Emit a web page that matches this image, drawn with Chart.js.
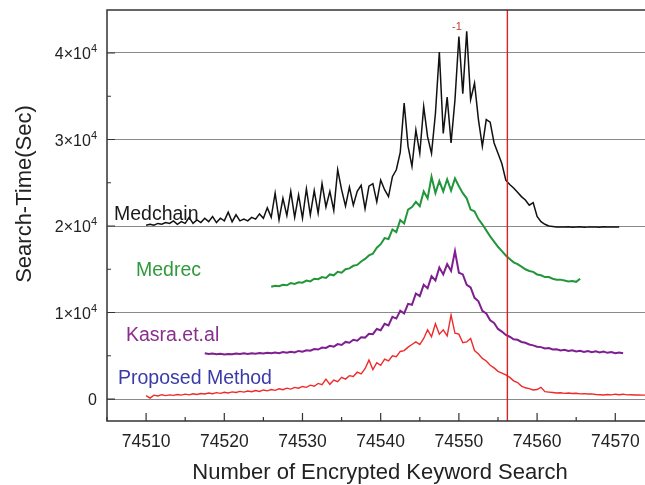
<!DOCTYPE html>
<html><head><meta charset="utf-8">
<script src="https://cdn.jsdelivr.net/npm/chart.js@4.4.1/dist/chart.umd.min.js"></script>
<style>html,body{margin:0;padding:0;background:#fff;overflow:hidden}</style>
</head><body>
<canvas id="c" width="645" height="485"></canvas>
<script>
// ---- data ----
const keywordCounts = [
74510,74510.5,74511,74511.5,74512,74512.5,74513,74513.5,74514,74514.5,74515,74515.5,74516,74516.5,74517,74517.5,74518,74518.5,74519,74519.5,
74520,74520.5,74521,74521.5,74522,74522.5,74523,74523.5,74524,74524.5,74525,74525.5,74526,74526.5,74527,74527.5,74528,74528.5,74529,74529.5,
74530,74530.5,74531,74531.5,74532,74532.5,74533,74533.5,74534,74534.5,74535,74535.5,74536,74536.5,74537,74537.5,74538,74538.5,74539,74539.5,
74540,74540.5,74541,74541.5,74542,74542.5,74543,74543.5,74544,74544.5,74545,74545.5,74546,74546.5,74547,74547.5,74548,74548.5,74549,74549.5,
74550,74550.5,74551,74551.5,74552,74552.5,74553,74553.5,74554,74554.5,74555,74555.5,74556,74556.5,74557,74557.5,74558,74558.5,74559,74559.5,
74560,74560.5,74561,74561.5,74562,74562.5,74563,74563.5,74564,74564.5,74565,74565.5,74566,74566.5,74567,74567.5,74568,74568.5,74569,74569.5,
74570,74570.5,74571,74571.5,74572,74572.5,74573,74573.5,74574];

const medchain = [
20100,20200,20100,20300,20200,20400,20300,20600,20200,20500,20300,21000,20300,20700,20400,20900,20500,21100,20400,20900,
20600,21600,20500,21300,20600,20800,20600,21000,20800,21400,20900,22100,21000,23800,20700,23200,21200,24000,21000,23600,
20900,24300,21300,24100,21500,24900,22200,24000,21800,26500,24200,22300,24500,22400,24000,24700,22000,24600,24900,22800,
25300,24200,23400,25700,26500,28500,34200,29200,26900,31100,28400,33800,30300,28400,33000,40100,30700,34900,29600,34600,
41900,35300,42500,34600,36500,32300,29200,32300,32000,29600,28400,27200,25300,24800,24400,23900,23400,23000,22400,22700,
21100,20500,20200,20000,19950,19900,19900,19880,19900,19870,19880,19900,19870,19880,19900,19880,19870,19900,19880,19900,
19880,19900,null,null,null,null,null,null,null];

const medrec = [
null,null,null,null,null,null,null,null,null,null,null,null,null,null,null,null,null,null,null,null,
null,null,null,null,null,null,null,null,null,null,null,null,12980,13100,13050,13200,13150,13400,13300,13500,
13450,13700,13600,13900,13850,14100,14000,14400,14300,14700,14600,15000,15100,15400,15500,15900,16200,16600,16800,17500,
17900,18600,18500,19600,19300,20700,20300,21900,22200,22800,22300,24000,23200,25700,23800,25200,24000,25400,24100,25500,
24600,23800,23200,21900,21700,20800,20200,19500,18800,18200,17600,17100,16600,16200,15800,15600,15300,15000,14800,14700,
14400,14300,14100,14100,13900,13800,13800,13700,13600,13650,13550,13900,null,null,null,null,null,null,null,null,
null,null,null,null,null,null,null,null,null];

const kasra = [
null,null,null,null,null,null,null,null,null,null,null,null,null,null,null,5280,5200,5250,5180,5230,
5150,5200,5170,5250,5200,5280,5220,5300,5230,5320,5260,5350,5280,5380,5300,5420,5340,5470,5380,5560,
5480,5640,5580,5780,5720,5950,5900,6150,6050,6350,6250,6600,6500,6850,6750,7150,7100,7550,7500,8100,
7950,8700,8500,9500,9300,10200,9900,11000,10900,12200,11900,13200,12800,14200,13700,15200,14400,15600,14800,17100,
14600,14400,13200,12900,11700,11300,10200,9900,9100,8800,8100,7800,7400,7200,6900,6850,6600,6500,6300,6200,
6050,6000,5850,5900,5720,5760,5620,5700,5560,5640,5500,5580,5450,5560,5420,5520,5380,5480,5340,5440,
5300,5380,5280,null,null,null,null,null,null];

const proposed = [
400,100,450,350,500,400,480,420,520,450,560,480,600,520,640,580,700,620,740,650,
780,700,830,760,880,800,920,850,980,880,1050,950,1100,1000,1180,1080,1260,1150,1340,1250,
1450,1350,1600,1480,1800,1650,2300,1700,2200,2000,2500,2300,2700,2600,3100,2900,3500,4500,3400,4200,
3900,4600,4400,5000,4900,5500,5600,6000,6300,6600,6300,7000,8000,7200,8700,7500,8000,7300,9700,7600,
7500,6500,6600,7000,5600,5200,4700,4400,3900,3600,3200,3000,2800,2500,2100,1900,1500,1300,1200,1050,
1100,1350,850,800,750,700,720,650,700,640,660,600,620,580,600,520,500,460,520,480,
560,500,560,480,500,460,480,450,460];

const seriesNames = ['Medchain','Medrec','Kasra.et.al','Proposed Method'];
const markerX = 74556.2;           // red vertical marker
const markerLabel = '-1';
const xMajorTicks = [74510,74520,74530,74540,74550,74560,74570];
const xMinorTicks = [74505,74515,74525,74535,74545,74555,74565];
const yMajorTicks = [0,10000,20000,30000,40000];
const yMinorTicks = [5000,15000,25000,35000];
const xTitle = 'Number of Encrypted Keyword Search';
const yTitle = 'Search-Time(Sec)';

// ---- chart ----
const FONT = '"Liberation Sans", Arial, sans-serif';
function pts(vals){return keywordCounts.map((x,i)=>({x:x,y:vals[i]})).filter(p=>p.y!==null);}

const decor = {
  id:'decor',
  afterDatasetsDraw(chart){
    const {ctx, chartArea:a, scales:{x}} = chart;
    const mx = x.getPixelForValue(markerX);
    ctx.save();
    ctx.strokeStyle='#d42424'; ctx.lineWidth=1.4;
    ctx.beginPath(); ctx.moveTo(mx,a.top); ctx.lineTo(mx,a.bottom); ctx.stroke();
    ctx.restore();
  },
  afterDraw(chart){
    const {ctx, chartArea:a, scales:{x,y}} = chart;
    ctx.save();
    // frame
    ctx.strokeStyle='#333'; ctx.lineWidth=1.5;
    ctx.beginPath();
    ctx.moveTo(chart.width+2,a.top); ctx.lineTo(a.left,a.top); ctx.lineTo(a.left,a.bottom); ctx.lineTo(chart.width+2,a.bottom);
    ctx.stroke();
    // tick marks (inside)
    ctx.lineWidth=1.2;
    ctx.beginPath();
    yMajorTicks.forEach(v=>{const p=y.getPixelForValue(v); ctx.moveTo(a.left,p); ctx.lineTo(a.left+8,p);});
    yMinorTicks.forEach(v=>{const p=y.getPixelForValue(v); ctx.moveTo(a.left,p); ctx.lineTo(a.left+4,p);});
    xMajorTicks.forEach(v=>{const p=x.getPixelForValue(v); ctx.moveTo(p,a.bottom); ctx.lineTo(p,a.bottom-8);});
    xMinorTicks.forEach(v=>{const p=x.getPixelForValue(v); ctx.moveTo(p,a.bottom); ctx.lineTo(p,a.bottom-4);});
    ctx.stroke();
    // x tick labels
    ctx.fillStyle='#222';
    ctx.font='17.5px '+FONT; ctx.textAlign='center'; ctx.textBaseline='alphabetic';
    xMajorTicks.forEach(v=>{ctx.fillText(String(v), x.getPixelForValue(v), 447);});
    // y tick labels
    yMajorTicks.forEach(v=>{
      const p=y.getPixelForValue(v);
      const right=a.left-10;
      if(v===0){ctx.font='16px '+FONT; ctx.textAlign='right'; ctx.fillText('0',right,p+6); return;}
      ctx.font='11px '+FONT; ctx.textAlign='right';
      ctx.fillText('4',right,p-1);
      const sw=ctx.measureText('4').width;
      ctx.font='16px '+FONT;
      ctx.fillText((v/10000)+'\u00d710',right-sw,p+6);
    });
    // axis titles
    ctx.fillStyle='#222';
    ctx.font='22px '+FONT; ctx.textAlign='center';
    ctx.fillText(xTitle, 380, 479);
    ctx.save(); ctx.translate(31,194); ctx.rotate(-Math.PI/2);
    ctx.font='22px '+FONT; ctx.fillText(yTitle,0,0); ctx.restore();
    // series labels
    ctx.textAlign='left'; ctx.font='19.5px '+FONT;
    ctx.fillStyle='#1a1a1a'; ctx.fillText(seriesNames[0],114,220);
    ctx.fillStyle='#2f9a3c'; ctx.fillText(seriesNames[1],136,276);
    ctx.fillStyle='#8a2e8c'; ctx.fillText(seriesNames[2],126,341);
    ctx.fillStyle='#3a3aa8'; ctx.fillText(seriesNames[3],118,384);
    // marker annotation
    ctx.fillStyle='#c0392b'; ctx.font='11px '+FONT; ctx.textAlign='center';
    ctx.fillText(markerLabel, 457, 30);
    ctx.restore();
  }
};

new Chart(document.getElementById('c'), {
  type:'line',
  data:{datasets:[
    {label:seriesNames[0], data:pts(medchain), borderColor:'#111111', borderWidth:1.5},
    {label:seriesNames[1], data:pts(medrec), borderColor:'#22963a', borderWidth:2},
    {label:seriesNames[2], data:pts(kasra), borderColor:'#7e1f90', borderWidth:2},
    {label:seriesNames[3], data:pts(proposed), borderColor:'#ef2a2a', borderWidth:1.4}
  ]},
  options:{
    responsive:false, animation:false, devicePixelRatio:1,
    layout:{padding:{top:10,right:0,left:0,bottom:0}},
    elements:{point:{radius:0}, line:{tension:0, fill:false}},
    plugins:{legend:{display:false}, tooltip:{enabled:false}},
    scales:{
      x:{type:'linear', min:74505, max:74573.8,
         grid:{display:false, drawTicks:false}, border:{display:false},
         ticks:{display:false},
         afterFit:s=>{s.height=64;}},
      y:{type:'linear', min:-2540, max:44970,
         afterBuildTicks:s=>{s.ticks=yMajorTicks.map(v=>({value:v}));},
         grid:{color:'#8a8a8a', lineWidth:1, drawTicks:false}, border:{display:false},
         ticks:{display:false},
         afterFit:s=>{s.width=107;}}
    }
  },
  plugins:[decor]
});
</script>
</body></html>
